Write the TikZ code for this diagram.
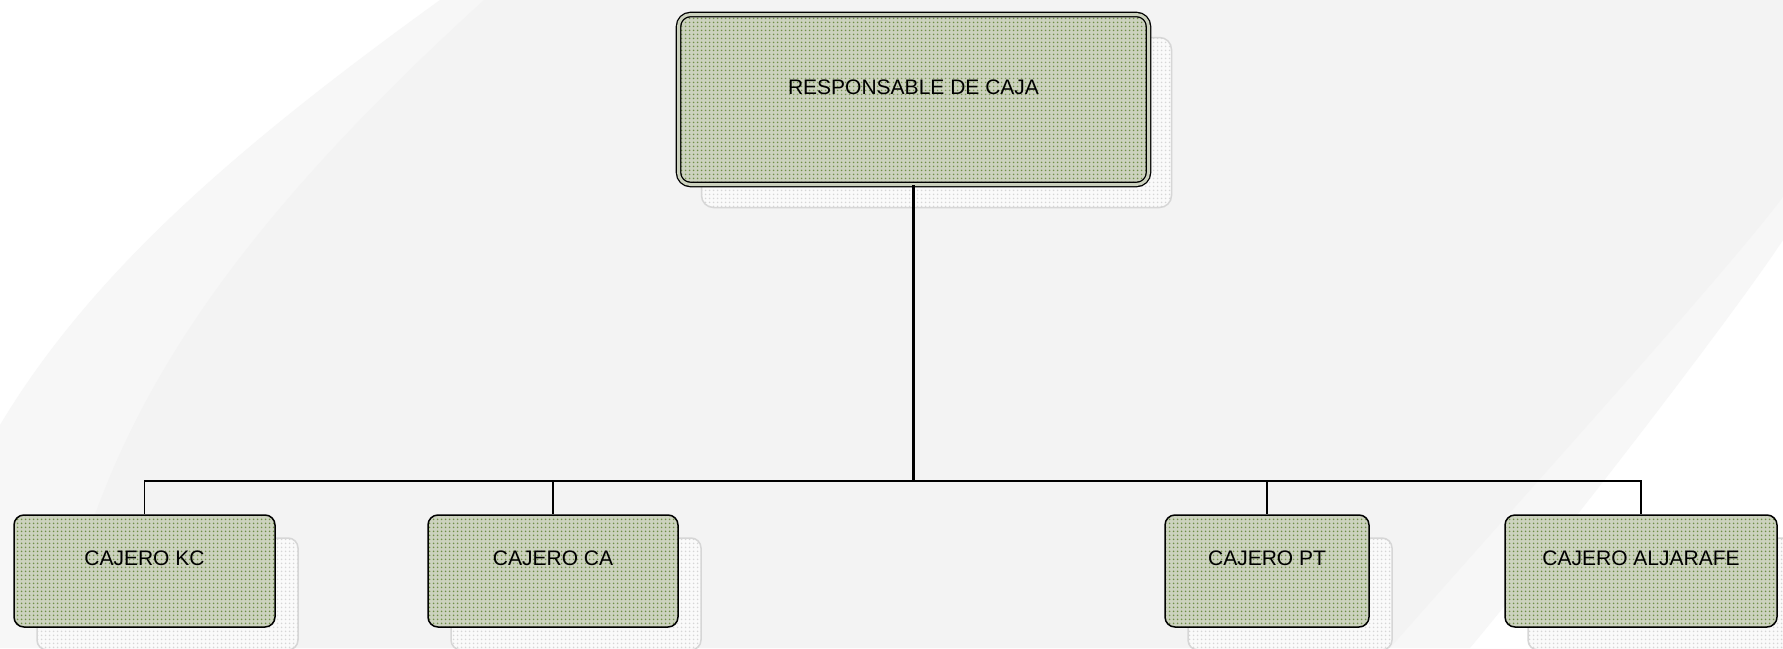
\documentclass[tikz,border=0pt]{standalone}
\usepackage{fontspec}
\setmainfont{Liberation Sans}
\usetikzlibrary{patterns}
\usetikzlibrary{shadows}

\pgfdeclarepatternformonly{olivedots}{\pgfpointorigin}{\pgfpoint{4pt}{4pt}}{\pgfpoint{4pt}{4pt}}{%
  \pgfpathcircle{\pgfpoint{2pt}{2pt}}{1.1pt}\pgfusepath{fill}}

\definecolor{boxfill}{RGB}{204,210,190}
\definecolor{boxdots}{RGB}{112,142,72}
\definecolor{shadefill}{RGB}{250,250,250}
\definecolor{shadedots}{RGB}{214,214,214}
\definecolor{shadeline}{RGB}{214,214,214}
\definecolor{bandgray}{RGB}{247,247,247}
\definecolor{swooshlight}{RGB}{243,243,243}
\definecolor{swooshdark}{RGB}{234,234,234}

\begin{document}
\begin{tikzpicture}[x=1pt,y=-1pt,every node/.style={align=center,inner sep=0pt,font=\fontsize{21}{25}\selectfont},
box/.style={rectangle,rounded corners=10pt,draw=black,line width=1.5pt,
    copy shadow={shadow xshift=23pt,shadow yshift=-23pt,opacity=1,fill=shadefill,draw=shadeline,line width=1.5pt,
        postaction={pattern=olivedots,pattern color=shadedots}},
    preaction={fill=boxfill},pattern=olivedots,pattern color=boxdots,
    text height=50pt,text depth=62pt},
chief/.style={box,rounded corners=12pt,double=boxfill,double distance=3pt,line width=1.3pt,text height=79.5pt,text depth=90.5pt},
link/.style={line width=1.5pt},
trunk/.style={line width=2.5pt}]
\useasboundingbox (0,0) rectangle (1783,648);
\fill[white] (0,0) rectangle (1783,648);
\fill[bandgray] (440,0) .. controls (232,150) and (90,275) .. (0,425) -- (0,648) -- (1470,648)
    .. controls (1560,540) and (1730,320) .. (1783,240) -- (1783,0) -- cycle;
\shade[top color=swooshlight,middle color=swooshdark,bottom color=swooshlight]
    (484,0) .. controls (209,250) and (101,432) .. (58,648) -- (1390,648)
    .. controls (1520,500) and (1720,280) .. (1783,197) -- (1783,0) -- cycle;

\node[chief,minimum width=470pt] (jefe) at (913.5,99.5) {RESPONSABLE DE CAJA};
\node[box,minimum width=261pt] (kc) at (144.5,571) {CAJERO KC};
\node[box,minimum width=250pt] (ca) at (553,571) {CAJERO CA};
\node[box,minimum width=204pt] (pt) at (1267,571) {CAJERO PT};
\node[box,minimum width=272pt] (alj) at (1641,571) {CAJERO ALJARAFE};

\coordinate (bus) at (913.5,481);
\draw[trunk] (jefe.south) -- (bus);
\foreach \n in {kc,ca,pt,alj}
    \draw[link] (bus) -| (\n.north);
\end{tikzpicture}
\end{document}
